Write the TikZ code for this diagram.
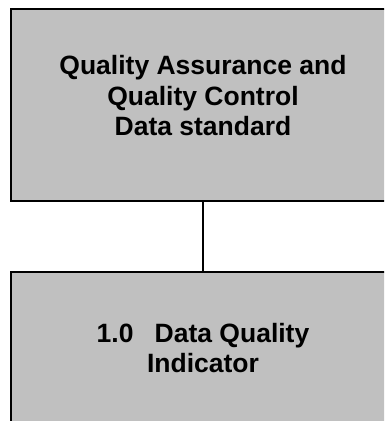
\documentclass[tikz,border=0pt]{standalone}
\usepackage{fontspec}
\setmainfont{Liberation Sans}
\usepackage{tikz}

\tikzset{
  stdbox/.style={draw, line width=1.2pt, fill=boxgray, minimum width=384pt,
    minimum height=192pt, inner sep=0pt},
  stdtext/.style={align=center, font=\bfseries\fontsize{26.5}{30.5}\selectfont}
}
\definecolor{boxgray}{HTML}{C0C0C0}

\begin{document}
\begin{tikzpicture}[x=1pt,y=1pt]

  \useasboundingbox (0,0) rectangle (384,421);
  \clip (0,0) rectangle (384,421);
  \fill[white] (0,0) rectangle (384,421);

  % top box
  \node[stdbox] (qaqc) at (203,316) {};
  \node[stdtext] (qaqctext) at (203,325) {Quality Assurance and\\Quality Control\\Data standard};

  % bottom box
  \node[stdbox] (dqi) at (203,53) {};
  \node[stdtext] (dqitext) at (203,73) {1.0\hspace{0.8em}Data Quality\\Indicator};

  \draw[line width=1.2pt] (qaqc.south) -- (dqi.north);
\end{tikzpicture}
\end{document}
